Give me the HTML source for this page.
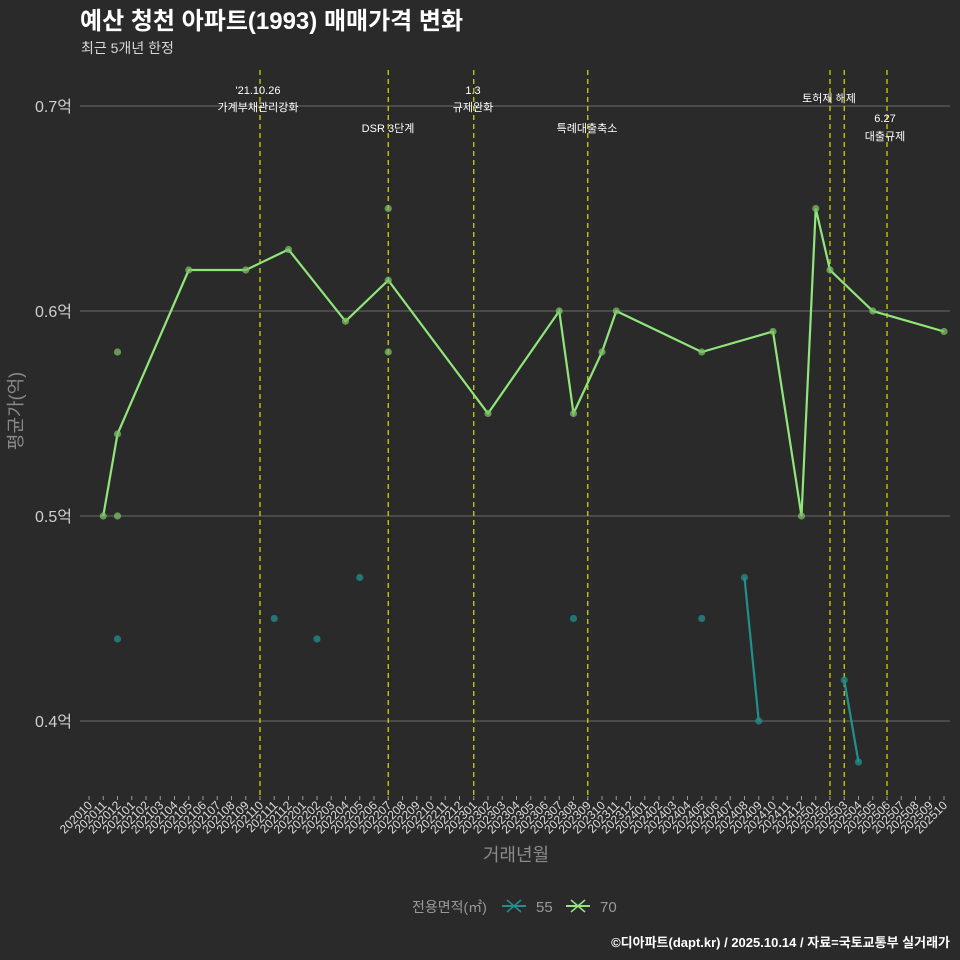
<!DOCTYPE html>
<html><head><meta charset="utf-8">
<style>
body{margin:0;background:#2b2a2b;}
svg{display:block;}
text{font-family:"Liberation Sans","Noto Sans CJK KR",sans-serif;}
</style></head>
<body>
<svg id="c" width="960" height="960" xmlns="http://www.w3.org/2000/svg">
<rect width="960" height="960" fill="#2b2a2b"/>
<text x="80" y="29" fill="#ffffff" font-size="24" font-weight="bold">예산 청천 아파트(1993) 매매가격 변화</text>
<text x="81" y="53" fill="#d8d8d8" font-size="14">최근 5개년 한정</text>
<g id="grid"></g>
<g id="vlines"></g>
<g id="series"></g>
<g id="xaxis"></g>
<text transform="translate(22,411) rotate(-90)" text-anchor="middle" fill="#8a8a8a" font-size="18" font-family="Noto Sans CJK KR, sans-serif">평균가(억)</text>
<text x="516" y="861" text-anchor="middle" fill="#8a8a8a" font-size="18">거래년월</text>
<g>
<text x="412" y="912" fill="#9a9a9a" font-size="14">전용면적(㎡)</text>
<g>
<line x1="502" y1="906" x2="526" y2="906" stroke="#21908c" stroke-width="2"/>
<line x1="507" y1="900" x2="521" y2="912" stroke="#21908c" stroke-width="1.5"/>
<line x1="507" y1="912" x2="521" y2="900" stroke="#21908c" stroke-width="1.5"/>
<text x="536" y="912" fill="#9a9a9a" font-size="15">55</text></g>
<g>
<line x1="566" y1="906" x2="590" y2="906" stroke="#90e67a" stroke-width="2"/>
<line x1="571" y1="900" x2="585" y2="912" stroke="#90e67a" stroke-width="1.5"/>
<line x1="571" y1="912" x2="585" y2="900" stroke="#90e67a" stroke-width="1.5"/>
<text x="600" y="912" fill="#9a9a9a" font-size="15">70</text></g>
</g>
<text x="950" y="947" text-anchor="end" fill="#ffffff" font-size="13" font-weight="bold">©디아파트(dapt.kr) / 2025.10.14 / 자료=국토교통부 실거래가</text>
</svg>
<script>
const months=[];for(let y=2020,m=10;!(y===2025&&m===11);){months.push(y+String(m).padStart(2,'0'));m++;if(m>12){m=1;y++;}}
const yTicks=[0.4,0.5,0.6,0.7];
const s70Months=['202011','202012','202105','202109','202112','202204','202207','202302','202307','202308','202310','202311','202405','202410','202412','202501','202502','202505','202510'];
const s70Values=[0.50,0.54,0.62,0.62,0.63,0.595,0.615,0.55,0.60,0.55,0.58,0.60,0.58,0.59,0.50,0.65,0.62,0.60,0.59];
const s70PtMonths=['202012','202012','202207','202207'];
const s70PtValues=[0.58,0.50,0.65,0.58];
const s55Months=['202012','202111','202202','202205','202308','202405','202408','202409','202503','202504'];
const s55Values=[0.44,0.45,0.44,0.47,0.45,0.45,0.47,0.40,0.42,0.38];
const s55LineA=['202408','202409'];
const s55LineB=['202503','202504'];
const eventMonths=['202110','202207','202301','202309','202502','202503','202506'];
const eventLabels=[["'21.10.26","가계부채관리강화"],["DSR 3단계"],["1.3","규제완화"],["특례대출축소"],["토허제 해제"],[],["6.27","대출규제"]];
const eventLabelY=[[94,111],[132],[94,111],[132],[102],[],[122,140]];
const eventLabelX=[258,388,473,587,829,843,885];
const NS='http://www.w3.org/2000/svg';
const x=m=>89+months.indexOf(m)*14.25;
const y=v=>516-(v-0.5)*2050;
function mk(tag,attrs,parent){const e=document.createElementNS(NS,tag);for(const k in attrs)e.setAttribute(k,attrs[k]);document.getElementById(parent).appendChild(e);return e;}
yTicks.forEach(t=>{
 const l=mk('line',{x1:80,x2:950,y1:y(t),y2:y(t),stroke:'#6a6a6a','stroke-width':1},'grid');
 
 
 const tx=mk('text',{x:72,y:y(t)+6,'text-anchor':'end',fill:'#cfcfcf','font-size':16},'grid');
 tx.textContent=t.toFixed(1)+'억';
 
 
});
eventMonths.forEach((m,i)=>{
 const l=mk('line',{x1:x(m),x2:x(m),y1:70,y2:800,stroke:'#c8d400','stroke-width':1.3,'stroke-dasharray':'5,4'},'vlines');
 
 
 eventLabels[i].forEach((s,j)=>{
  const t=mk('text',{x:eventLabelX[i],y:eventLabelY[i][j],'text-anchor':'middle',fill:'#ffffff','font-size':11},'vlines');
  t.textContent=s;
  
  
 });
});
function line(ms,vs,color,name){
 const p=mk('polyline',{points:ms.map((m,i)=>x(m)+','+y(vs[i])).join(' '),fill:'none',stroke:color,'stroke-width':2.2},'series');
 
 
}
function pts(ms,vs,color,name){
 ms.forEach((m,i)=>{const c=mk('circle',{cx:x(m),cy:y(vs[i]),r:3.6,fill:color,'fill-opacity':0.75},'series');
 
 });
}
line(s70Months,s70Values,'#90e67a','line-70');
pts(s70Months,s70Values,'#7cbf66','point-70');
pts(s70PtMonths,s70PtValues,'#7cbf66','point-70');
line(s55LineA,s55LineA.map(m=>s55Values[s55Months.indexOf(m)]),'#21908c','line-55');
line(s55LineB,s55LineB.map(m=>s55Values[s55Months.indexOf(m)]),'#21908c','line-55');
pts(s55Months,s55Values,'#21908c','point-55');
months.forEach(m=>{
 const l=mk('line',{x1:x(m),x2:x(m),y1:796,y2:800,stroke:'#9a9a9a'},'xaxis');
 
 
 const t=mk('text',{transform:`translate(${x(m)+4},806) rotate(-45)`,'text-anchor':'end',fill:'#dddddd','font-size':12},'xaxis');
 t.textContent=m;
 
 
});
</script>
</body></html>
